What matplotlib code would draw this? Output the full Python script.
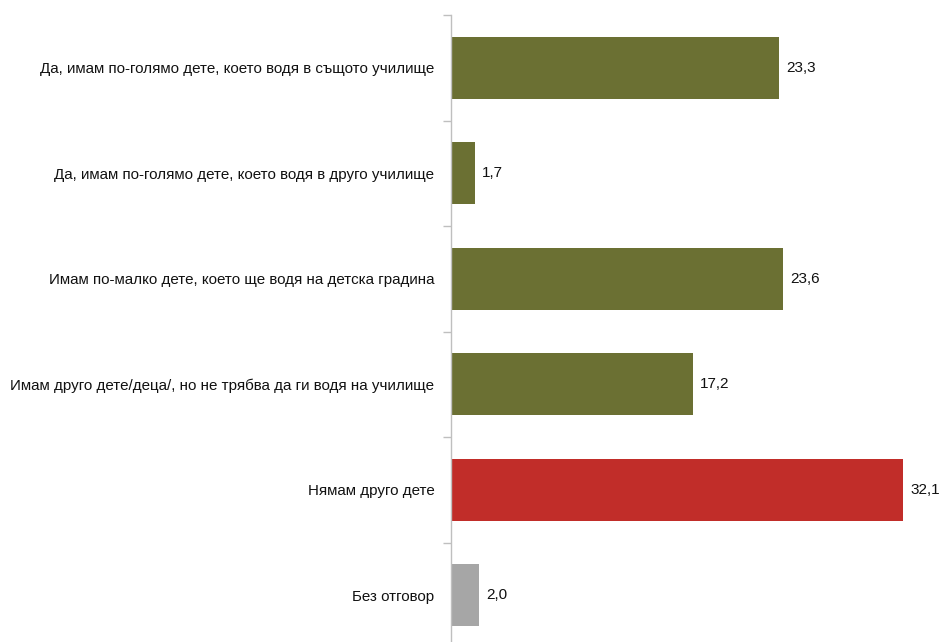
import matplotlib
matplotlib.use("Agg")
import matplotlib.pyplot as plt
import numpy as np

categories = [
    "Да, имам по-голямо дете, което водя в същото училище",
    "Да, имам по-голямо дете, което водя в друго училище",
    "Имам по-малко дете, което ще водя на детска градина",
    "Имам друго дете/деца/, но не трябва да ги водя на училище",
    "Нямам друго дете",
    "Без отговор",
]
values = [23.3, 1.7, 23.6, 17.2, 32.1, 2.0]
colors = ["#6B7033", "#6B7033", "#6B7033", "#6B7033", "#C12D29", "#A6A6A6"]

plt.rcParams['font.family'] = ['Liberation Sans', 'DejaVu Sans']

W, H = 945, 642
fig = plt.figure(figsize=(W/100, H/100), dpi=100)
ax = fig.add_axes([451/W, (H-648)/H, 493/W, 633/H])

y = np.arange(len(categories))
ax.barh(y, values, height=0.59, color=colors)
ax.set_xlim(0, 35)
ax.set_ylim(len(categories)-0.5, -0.5)

for yi, v in zip(y, values):
    ax.text(v + 0.5, yi, f"{v:.1f}".replace(".", ","), va="center", ha="left", fontsize=11, color="#111111")

ax.set_yticks(y)
ax.set_yticklabels(categories, fontsize=10.9, color="#111111")
ax.tick_params(axis="y", which="major", length=0, pad=12)
ax.set_yticks(np.arange(-0.5, len(categories)+0.5, 1), minor=True)
ax.tick_params(axis="y", which="minor", length=6, color="#BFBFBF", width=1)
ax.set_xticks([])
for s in ["top", "right", "bottom"]:
    ax.spines[s].set_visible(False)
ax.spines["left"].set_color("#BFBFBF")
ax.spines["left"].set_linewidth(1)

fig.savefig("out.png", dpi=100)
